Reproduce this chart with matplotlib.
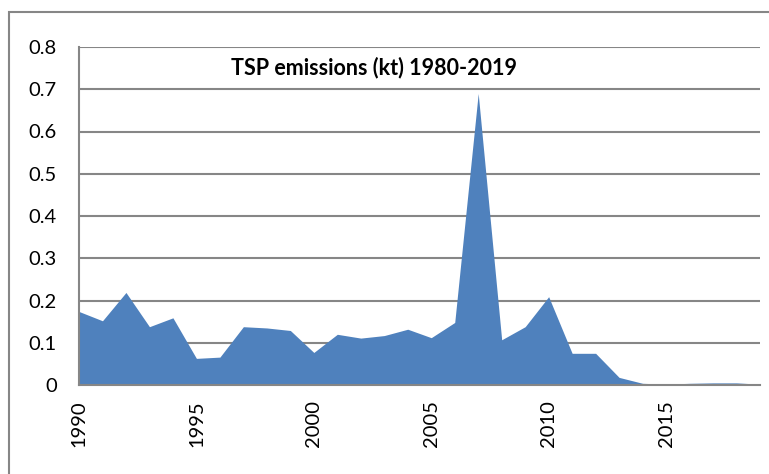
import matplotlib
matplotlib.use("Agg")
import matplotlib.pyplot as plt
from matplotlib.patches import Rectangle

years = list(range(1990, 2020))
tsp = [0.174, 0.152, 0.219, 0.138, 0.159, 0.063, 0.066, 0.138, 0.135, 0.129,
       0.077, 0.120, 0.111, 0.117, 0.132, 0.112, 0.148, 0.690, 0.107, 0.138,
       0.209, 0.075, 0.075, 0.018, 0.004, 0.002, 0.004, 0.005, 0.005, 0.002]
yticks = [0, 0.1, 0.2, 0.3, 0.4, 0.5, 0.6, 0.7, 0.8]
ytick_labels = ["0", "0.1", "0.2", "0.3", "0.4", "0.5", "0.6", "0.7", "0.8"]
xticks = [1990, 1995, 2000, 2005, 2010, 2015]
title = "TSP emissions (kt) 1980-2019"

plt.rcParams['font.family'] = ['Lato', 'DejaVu Sans']

fig = plt.figure(figsize=(7.69, 4.74), dpi=100)
fig.patches.append(Rectangle((9/769, -0.1), 1.0, 1 - 12/474 + 0.1,
                             transform=fig.transFigure, fill=False,
                             edgecolor='#868686', linewidth=1.5))
ax = fig.add_axes([79/769, 1 - 385/474, (760 - 79)/769, (385 - 47)/474])

grid_c = '#868686'
ax.fill_between(years, tsp, 0, color='#4F81BD', linewidth=0, zorder=3)
ax.set_xlim(1990, 2019)
ax.set_ylim(0, 0.8)
ax.set_yticks(yticks)
ax.set_yticklabels(ytick_labels)
ax.set_xticks(xticks)
ax.set_xticklabels([str(x) for x in xticks], rotation=90)
for y in yticks[1:]:
    ax.axhline(y, color=grid_c, linewidth=1.5, zorder=1)
for s in ['top', 'right']:
    ax.spines[s].set_visible(False)
for s in ['left', 'bottom']:
    ax.spines[s].set_color(grid_c)
    ax.spines[s].set_linewidth(1.5)
    ax.spines[s].set_zorder(4)
ax.tick_params(axis='both', length=0, labelsize=14.5, colors='black')
ax.tick_params(axis='y', pad=16)
ax.tick_params(axis='x', pad=11)
ax.text(0.433, 0.94, title, transform=ax.transAxes, ha='center', va='center',
        fontsize=15.5, fontweight='bold')

fig.savefig('out.png', dpi=100)
